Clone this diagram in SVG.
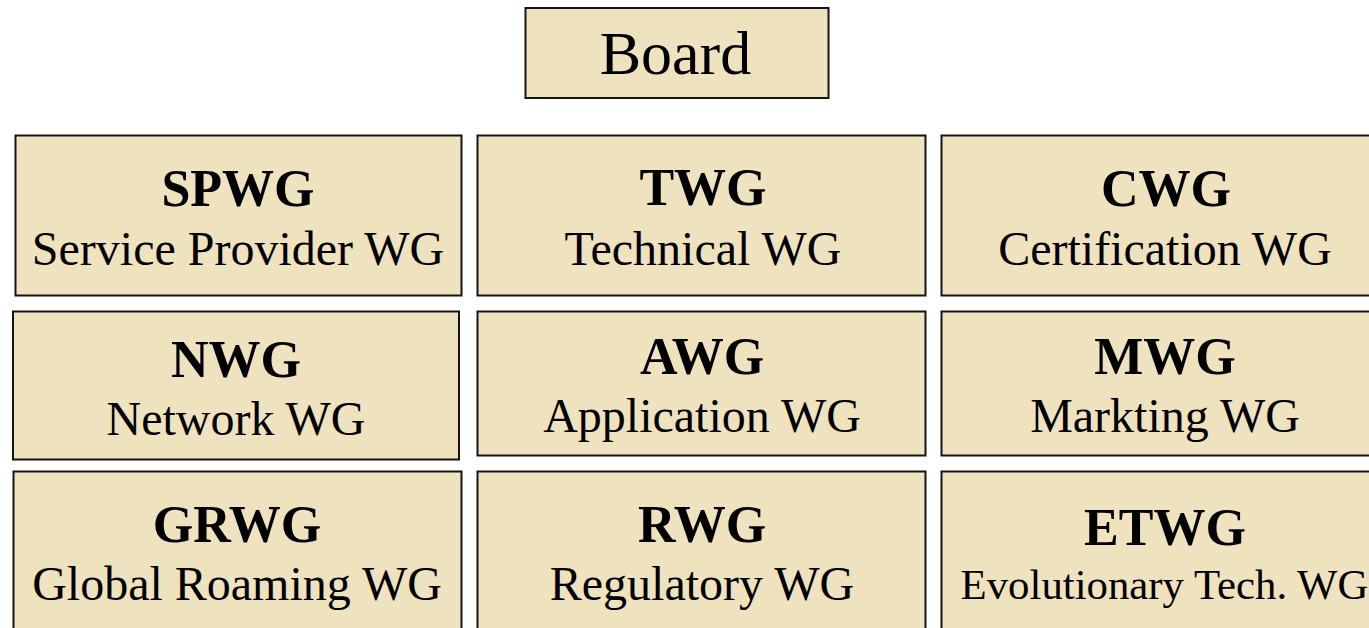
<svg xmlns="http://www.w3.org/2000/svg" width="1369" height="628" viewBox="0 0 1369 628">
  <style>
    .box { fill: #EFE2BF; stroke: #141414; stroke-width: 2; }
    .t { font-family: "Liberation Serif", "Times New Roman", serif; fill: #000; text-anchor: middle; }
    .abbr { font-size: 52px; font-weight: bold; }
    .name { font-size: 48px; }
    .small { font-size: 42.8px; }
    .board { font-size: 62px; }
  </style>
  <rect width="1369" height="628" fill="#ffffff"/>

  <g id="board">
    <rect class="box" x="525.5" y="8" width="303" height="90"/>
    <text class="t board" x="675.5" y="74">Board</text>
  </g>

  <!-- row 1 -->
  <g id="spwg">
    <rect class="box" x="15.5" y="135.5" width="446" height="160"/>
    <text class="t abbr" x="238" y="206">SPWG</text>
    <text class="t name" x="238" y="265">Service Provider WG</text>
  </g>
  <g id="twg">
    <rect class="box" x="477.5" y="135.5" width="448" height="160"/>
    <text class="t abbr" x="703" y="205">TWG</text>
    <text class="t name" x="703" y="265">Technical WG</text>
  </g>
  <g id="cwg">
    <rect class="box" x="941.5" y="135.5" width="450" height="160"/>
    <text class="t abbr" x="1166" y="206">CWG</text>
    <text class="t name" x="1165" y="265">Certification WG</text>
  </g>

  <!-- row 2 -->
  <g id="nwg">
    <rect class="box" x="13" y="311.5" width="446" height="148"/>
    <text class="t abbr" x="236" y="376.5">NWG</text>
    <text class="t name" x="236" y="435">Network WG</text>
  </g>
  <g id="awg">
    <rect class="box" x="477.5" y="311.5" width="448" height="144"/>
    <text class="t abbr" x="702" y="373.5">AWG</text>
    <text class="t name" x="702" y="432">Application WG</text>
  </g>
  <g id="mwg">
    <rect class="box" x="941.5" y="311.5" width="450" height="144"/>
    <text class="t abbr" x="1165" y="373.5">MWG</text>
    <text class="t name" x="1165" y="432">Markting WG</text>
  </g>

  <!-- row 3 -->
  <g id="grwg">
    <rect class="box" x="13.5" y="471.5" width="448" height="180"/>
    <text class="t abbr" x="237" y="541.5">GRWG</text>
    <text class="t name" x="237" y="600">Global Roaming WG</text>
  </g>
  <g id="rwg">
    <rect class="box" x="477.5" y="471.5" width="448" height="180"/>
    <text class="t abbr" x="702" y="541.5">RWG</text>
    <text class="t name" x="702" y="600">Regulatory WG</text>
  </g>
  <g id="etwg">
    <rect class="box" x="941.5" y="471.5" width="450" height="180"/>
    <text class="t abbr" x="1165" y="544.5">ETWG</text>
    <text class="t small" x="1164.5" y="598.5">Evolutionary Tech. WG</text>
  </g>

  <g id="connectors"/>
</svg>
